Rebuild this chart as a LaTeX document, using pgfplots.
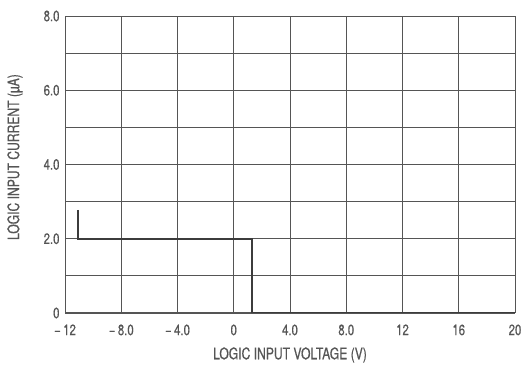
\documentclass[border=0pt]{standalone}
\usepackage{fontspec}
\setmainfont{TeX Gyre Heros}[FakeStretch=0.76]
\newfontfamily\labfont{TeX Gyre Heros}[FakeStretch=0.76, FakeBold=0.6]
\usepackage{pgfplots}
\pgfplotsset{compat=1.18}
\definecolor{gridc}{HTML}{555555}
\definecolor{txt}{HTML}{555555}
\definecolor{curve}{HTML}{3C3C3C}
\begin{document}
\begin{tikzpicture}
\begin{axis}[
  scale only axis,
  width=450bp, height=297bp,
  xmin=-12, xmax=20, ymin=0, ymax=8,
  xtick={-12,-8,-4,0,4,8,12,16,20},
  xticklabels={\textminus\,12,\textminus\,8.0,\textminus\,4.0,0,4.0,8.0,12,16,20},
  ytick={0,2,4,6,8},
  yticklabels={0,2.0,4.0,6.0,8.0},
  minor ytick={1,3,5,7},
  grid=both,
  major grid style={gridc, line width=0.9pt},
  minor grid style={gridc, line width=0.9pt},
  axis line style={gridc, line width=1pt},
  tick style={draw=none},
  tick label style={font=\labfont\fontsize{15}{17}\selectfont, text=txt},
  xticklabel style={yshift=-8bp},
  yticklabel style={xshift=-2bp},
  xlabel={LOGIC INPUT VOLTAGE (V)},
  ylabel={LOGIC INPUT CURRENT (\textmu A)},
  label style={font=\labfont\fontsize{16}{18}\selectfont, text=txt},
  xlabel style={at={(rel axis cs:0.5,0)}, anchor=center, yshift=-42bp},
  ylabel style={at={(rel axis cs:0,0.525)}, anchor=center, yshift=50bp},
  /pgf/number format/assume math mode=true,
]
\coordinate (sw) at (rel axis cs:0,0);
\addplot[curve, line width=1.9pt] coordinates {
  (-11.05,2.78) (-11.05,2.0) (1.3,2.0) (1.3,0.0) (20,0.0)
};
\end{axis}
\path[use as bounding box] ([shift={(-65bp,-52bp)}]sw) rectangle ([shift={(461bp,313bp)}]sw);
\end{tikzpicture}
\end{document}
